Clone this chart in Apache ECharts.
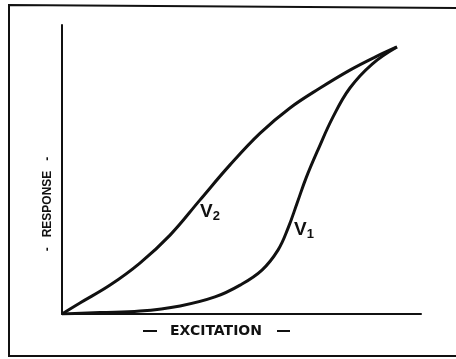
<!DOCTYPE html>
<html>
<head>
<meta charset="utf-8">
<script src="https://cdn.jsdelivr.net/npm/echarts@6/dist/echarts.min.js"></script>
<style>
  html, body { margin: 0; padding: 0; background: #ffffff; }
  #chart { width: 456px; height: 359px; }
</style>
</head>
<body>
<div id="chart"></div>
<script>
// Response curves against excitation (arbitrary units, 0-100 on both axes)
const v2Excitation = [0, 5.0, 13.4, 21.7, 30.1, 38.4, 46.8, 55.2, 63.5, 71.9, 80.2, 87.2, 93.3];
const v2Response   = [0, 3.8, 10.0, 17.6, 27.3, 39.4, 51.6, 62.6, 71.3, 78.2, 84.4, 88.9, 92.4];

const v1Excitation = [0, 10.6, 21.7, 32.9, 42.6, 49.6, 55.7, 60.2, 63.0, 65.5, 68.0, 71.3, 75.5, 80.2, 86.4, 93.3];
const v1Response   = [0, 0.5, 1.0, 2.8, 5.9, 10.0, 15.2, 22.2, 29.8, 38.4, 47.1, 56.8, 68.2, 78.2, 86.5, 92.4];

// Curve names and where their labels sit (data coords)
const curveNames = ['V2', 'V1'];
const labelAnchors = [[37.9, 35.3], [64.1, 29.1]];

const axisTitleX = 'EXCITATION';
const axisTitleY = '-   RESPONSE   -';

const pairs = (xs, ys) => xs.map((x, i) => [x, ys[i]]);

const chart = echarts.init(document.getElementById('chart'), null, { renderer: 'canvas' });

const ink = '#111111';
const labelFont = 'Liberation Sans';

function curve(name, data, anchor, sub) {
  return {
    name: name,
    type: 'line',
    data: data,
    smooth: 0.4,
    symbol: 'none',
    lineStyle: { color: ink, width: 3 },
    silent: true,
    markPoint: {
      symbol: 'circle',
      symbolSize: 0,
      silent: true,
      data: [{ coord: anchor }],
      label: {
        show: true,
        position: 'right',
        distance: 2,
        formatter: '{v|V}{s|' + sub + '}',
        rich: {
          v: { fontFamily: labelFont, fontWeight: 'bold', fontSize: 19, color: ink },
          s: { fontFamily: labelFont, fontWeight: 'bold', fontSize: 13, color: ink, verticalAlign: 'bottom', padding: [9, 0, 0, 0] }
        }
      }
    }
  };
}

const option = {
  backgroundColor: '#ffffff',
  animation: false,
  grid: { left: 62, top: 25, width: 359, height: 289 },
  xAxis: {
    type: 'value', min: 0, max: 100,
    axisLine: { show: true, lineStyle: { color: ink, width: 2 } },
    axisTick: { show: false }, axisLabel: { show: false }, splitLine: { show: false }
  },
  yAxis: {
    type: 'value', min: 0, max: 100,
    axisLine: { show: true, lineStyle: { color: ink, width: 2 } },
    axisTick: { show: false }, axisLabel: { show: false }, splitLine: { show: false }
  },
  series: [
    curve(curveNames[0], pairs(v2Excitation, v2Response), labelAnchors[0], '2'),
    curve(curveNames[1], pairs(v1Excitation, v1Response), labelAnchors[1], '1')
  ],
  graphic: [
    // frame around the figure
    {
      type: 'polyline', silent: true,
      shape: { points: [[470, 8], [9, 5], [9, 356], [470, 356]] },
      style: { stroke: ink, lineWidth: 2, fill: null }
    },
    {
      type: 'text', silent: true, x: 216, y: 331,
      style: { text: axisTitleX, fontFamily: 'DejaVu Sans', fontWeight: 'bold', fontSize: 14,
               fill: ink, align: 'center', verticalAlign: 'middle' }
    },
    {
      type: 'line', silent: true,
      shape: { x1: 143, y1: 331, x2: 157, y2: 331 },
      style: { stroke: ink, lineWidth: 2 }
    },
    {
      type: 'line', silent: true,
      shape: { x1: 277, y1: 331, x2: 290, y2: 331 },
      style: { stroke: ink, lineWidth: 2 }
    },
    {
      type: 'text', silent: true, x: 48, y: 204, rotation: Math.PI / 2,
      style: { text: axisTitleY, fontFamily: labelFont, fontWeight: 'bold', fontSize: 12,
               fill: ink, align: 'center', verticalAlign: 'middle' }
    }
  ]
};

chart.setOption(option);
</script>
</body>
</html>
